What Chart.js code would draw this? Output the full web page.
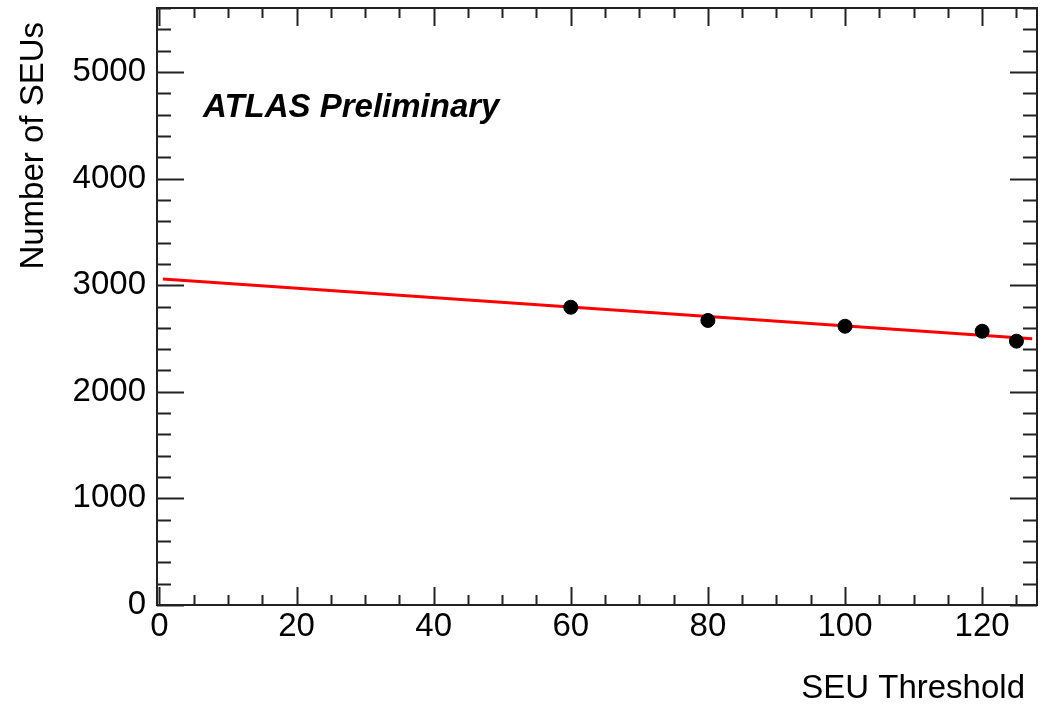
<!DOCTYPE html>
<html>
<head>
<meta charset="utf-8">
<script src="https://cdn.jsdelivr.net/npm/chart.js@4/dist/chart.umd.min.js"></script>
<style>
  html, body { margin: 0; padding: 0; background: #fff; }
  #wrap { width: 1046px; height: 708px; position: relative; }
</style>
</head>
<body>
<div id="wrap"><canvas id="c"></canvas></div>
<script>
// ---- data ----
const thresholds = [60, 80, 100, 120, 125];
const seuCounts  = [2793, 2669, 2615, 2568, 2475];
const fitX = [0.5, 127.3];
const fitY = [3059, 2497];
const xTickValues = [0, 20, 40, 60, 80, 100, 120];
const yTickValues = [0, 1000, 2000, 3000, 4000, 5000];
const xTitle = 'SEU Threshold';
const yTitle = 'Number of SEUs';
const labelText = 'ATLAS Preliminary';

const FONT = '"Liberation Sans", Arial, Helvetica, sans-serif';
const FRAME = '#222';

const rootFrame = {
  id: 'rootFrame',
  afterDraw(chart) {
    const ctx = chart.ctx;
    const a = chart.chartArea;
    const xs = chart.scales.x, ys = chart.scales.y;
    ctx.save();
    ctx.strokeStyle = FRAME;
    ctx.lineWidth = 2;
    ctx.strokeRect(a.left, a.top, a.right - a.left, a.bottom - a.top);
    ctx.beginPath();
    // x ticks (major every 20, minor every 5)
    for (let v = 0; v <= xs.max; v += 5) {
      const p = Math.round(xs.getPixelForValue(v)) + 0.5;
      const len = (v % 20 === 0) ? 18 : 10;
      ctx.moveTo(p, a.bottom); ctx.lineTo(p, a.bottom - len);
      ctx.moveTo(p, a.top); ctx.lineTo(p, a.top + len);
    }
    // y ticks (major every 1000, minor every 200)
    for (let v = 0; v <= ys.max; v += 200) {
      const p = Math.round(ys.getPixelForValue(v)) + 0.5;
      const len = (v % 1000 === 0) ? 27 : 14;
      ctx.moveTo(a.left, p); ctx.lineTo(a.left + len, p);
      ctx.moveTo(a.right, p); ctx.lineTo(a.right - len, p);
    }
    ctx.stroke();

    ctx.fillStyle = '#000';
    // x title
    ctx.font = '33px ' + FONT;
    ctx.textAlign = 'right';
    ctx.textBaseline = 'alphabetic';
    ctx.fillText(xTitle, 1025, 698);
    // y title
    ctx.save();
    ctx.translate(43, 22);
    ctx.rotate(-Math.PI / 2);
    ctx.textAlign = 'right';
    ctx.fillText(yTitle, 0, 0);
    ctx.restore();
    // ATLAS label
    ctx.font = 'italic bold 33px ' + FONT;
    ctx.textAlign = 'left';
    ctx.fillText(labelText, 203, 117);
    ctx.restore();
  }
};

new Chart(document.getElementById('c'), {
  type: 'scatter',
  data: {
    datasets: [
      {
        label: 'fit',
        type: 'line',
        data: fitX.map((x, i) => ({ x, y: fitY[i] })),
        borderColor: '#ff0000',
        borderWidth: 3,
        pointRadius: 0,
        fill: false,
        tension: 0,
        order: 2
      },
      {
        label: 'SEUs',
        data: thresholds.map((x, i) => ({ x, y: seuCounts[i] })),
        backgroundColor: '#000',
        borderColor: '#000',
        pointRadius: 7,
        pointHoverRadius: 7,
        order: 1
      }
    ]
  },
  options: {
    responsive: true,
    maintainAspectRatio: false,
    animation: false,
    events: [],
    layout: { padding: { left: 0, right: 9, top: 7, bottom: 0 } },
    plugins: { legend: { display: false }, tooltip: { enabled: false } },
    scales: {
      x: {
        type: 'linear',
        min: -0.35,
        max: 128,
        grid: { display: false, drawTicks: false },
        border: { display: false },
        afterBuildTicks: s => { s.ticks = xTickValues.map(v => ({ value: v })); },
        afterFit: s => { s.height = 103; s.paddingLeft = 0; s.paddingRight = 0; },
        ticks: {
          color: '#000',
          font: { family: FONT, size: 33 },
          padding: 2,
          maxRotation: 0,
          autoSkip: false,
          callback: v => String(v)
        }
      },
      y: {
        type: 'linear',
        min: 0,
        max: 5600,
        grid: { display: false, drawTicks: false },
        border: { display: false },
        afterBuildTicks: s => { s.ticks = yTickValues.map(v => ({ value: v })); },
        afterFit: s => { s.width = 157; s.paddingTop = 0; s.paddingBottom = 0; },
        ticks: {
          color: '#000',
          font: { family: FONT, size: 33 },
          padding: 11,
          autoSkip: false,
          callback: v => String(v)
        }
      }
    }
  },
  plugins: [rootFrame]
});
</script>
</body>
</html>
